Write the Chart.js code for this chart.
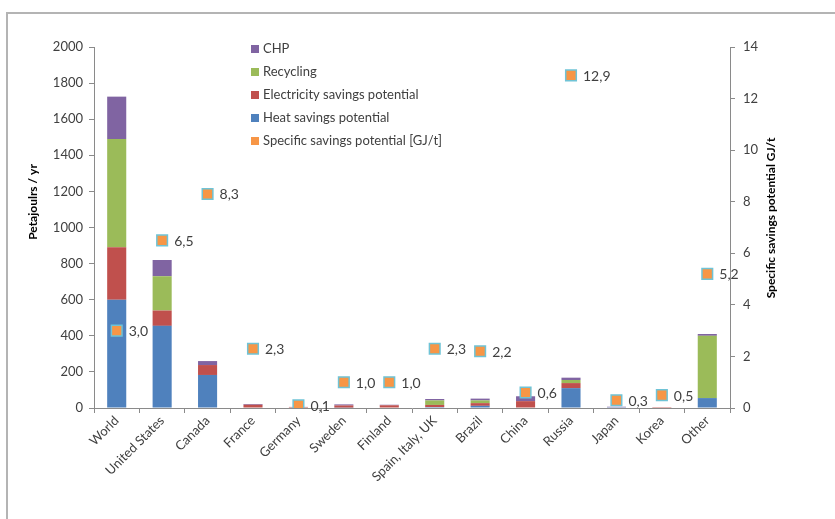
<!DOCTYPE html>
<html>
<head>
<meta charset="utf-8">
<script src="https://cdn.jsdelivr.net/npm/chart.js"></script>
<style>
  html, body { margin: 0; padding: 0; background: #fff; overflow: hidden; }
  #wrap { position: relative; width: 835px; height: 519px; }
  #frame { position: absolute; left: 6px; top: 12px; width: 900px; height: 600px; border: 2px solid #b4b4b4; box-sizing: border-box; }
  canvas { position: absolute; left: 0; top: 0; }
</style>
</head>
<body>
<div id="wrap">
  <div id="frame"></div>
  <canvas id="chart" width="835" height="519"></canvas>
</div>
<script>
// categories and series (Petajoules / yr, stacked) + specific savings GJ/t
var countries = ["World", "United States", "Canada", "France", "Germany", "Sweden", "Finland",
                 "Spain, Italy, UK", "Brazil", "China", "Russia", "Japan", "Korea", "Other"];
var heat        = [600, 455, 183, 0, 3, 2, 0, 5, 12, 0, 110, 4, 0, 55];
var electricity = [290, 85, 55, 18, 3, 12, 15, 12, 15, 38, 28, 0, 5, 0];
var recycling   = [600, 190, 0, 0, 0, 0, 0, 25, 15, 0, 17, 0, 0, 345];
var chp         = [235, 90, 22, 4, 0, 6, 3, 8, 10, 27, 13, 3, 0, 10];
var specific    = [3.0, 6.5, 8.3, 2.3, 0.1, 1.0, 1.0, 2.3, 2.2, 0.6, 12.9, 0.3, 0.5, 5.2];

var FONT = "Lato, 'Open Sans', sans-serif";
var TXT = "#404040";
var AXIS = "#8a8a8a";

// legend drawn inside the plot, titles and point labels
var extras = {
    id: "extras",
    afterDraw: function(chart) {
        var ctx = chart.ctx;
        ctx.save();
        // point labels
        var meta = chart.getDatasetMeta(4);
        ctx.font = "14px " + FONT;
        ctx.fillStyle = TXT;
        ctx.textBaseline = "middle";
        ctx.textAlign = "left";
        meta.data.forEach(function(pt, i) {
            ctx.fillText(specific[i].toFixed(1).replace(".", ","), pt.x + 12, pt.y + 1);
        });
        // legend
        var items = [
            ["CHP", "#8064A2"],
            ["Recycling", "#9BBB59"],
            ["Electricity savings potential", "#C0504D"],
            ["Heat savings potential", "#4F81BD"],
            ["Specific savings potential [GJ/t]", "#F79646"]
        ];
        ctx.font = "13px " + FONT;
        items.forEach(function(it, i) {
            var y = 49 + i * 23;
            ctx.fillStyle = it[1];
            ctx.fillRect(251, y - 4, 8, 8);
            ctx.fillStyle = TXT;
            ctx.fillText(it[0], 263, y);
        });
        // axis titles
        ctx.font = "bold 12px " + FONT;
        ctx.fillStyle = "#000";
        ctx.textAlign = "center";
        ctx.translate(33, 202);
        ctx.rotate(-Math.PI / 2);
        ctx.fillText("Petajoulrs / yr", 0, 0);
        ctx.restore();
        ctx.save();
        ctx.font = "bold 12px " + FONT;
        ctx.fillStyle = "#000";
        ctx.textAlign = "center";
        ctx.textBaseline = "middle";
        ctx.translate(771, 218);
        ctx.rotate(-Math.PI / 2);
        ctx.fillText("Specific savings potential GJ/t", 0, 0);
        ctx.restore();
    }
};

new Chart(document.getElementById("chart"), {
    type: "bar",
    data: {
        labels: countries,
        datasets: [
            { label: "Heat savings potential", data: heat, backgroundColor: "#4F81BD", stack: "s", yAxisID: "y", order: 2 },
            { label: "Electricity savings potential", data: electricity, backgroundColor: "#C0504D", stack: "s", yAxisID: "y", order: 2 },
            { label: "Recycling", data: recycling, backgroundColor: "#9BBB59", stack: "s", yAxisID: "y", order: 2 },
            { label: "CHP", data: chp, backgroundColor: "#8064A2", stack: "s", yAxisID: "y", order: 2 },
            {
                type: "line",
                label: "Specific savings potential [GJ/t]",
                data: specific,
                yAxisID: "y2",
                showLine: false,
                pointStyle: "rect",
                pointRadius: 7.5,
                pointBackgroundColor: "#F79646",
                pointBorderColor: "#6fc3d6",
                pointBorderWidth: 1.5,
                order: 1
            }
        ]
    },
    options: {
        responsive: false,
        animation: false,
        layout: { padding: { left: 20, right: 0, top: 47, bottom: 0 } },
        plugins: {
            legend: { display: false },
            tooltip: { enabled: false }
        },
        datasets: { bar: { barPercentage: 0.42, categoryPercentage: 1 } },
        scales: {
            x: {
                stacked: true,
                grid: { display: true, drawOnChartArea: false, offset: true, tickLength: 5, color: AXIS },
                border: { color: AXIS },
                ticks: { minRotation: 45, maxRotation: 45, autoSkip: false, color: TXT, font: { family: FONT, size: 13 }, padding: 0 },
                afterFit: function(s) { s.height = 111; }
            },
            y: {
                stacked: true,
                position: "left",
                min: 0, max: 2000,
                grid: { drawOnChartArea: false, tickLength: 5, color: AXIS },
                border: { color: AXIS },
                ticks: { stepSize: 200, color: TXT, font: { family: FONT, size: 13 }, padding: 6,
                         callback: function(v) { return String(v); } },
                afterFit: function(s) { s.width = 74; }
            },
            y2: {
                position: "right",
                min: 0, max: 14,
                grid: { drawOnChartArea: false, tickLength: 5, color: AXIS },
                border: { color: AXIS },
                ticks: { stepSize: 2, color: TXT, font: { family: FONT, size: 13 }, padding: 8,
                         callback: function(v) { return String(v); } },
                afterFit: function(s) { s.width = 105; }
            }
        }
    },
    plugins: [extras]
});
</script>
</body>
</html>
